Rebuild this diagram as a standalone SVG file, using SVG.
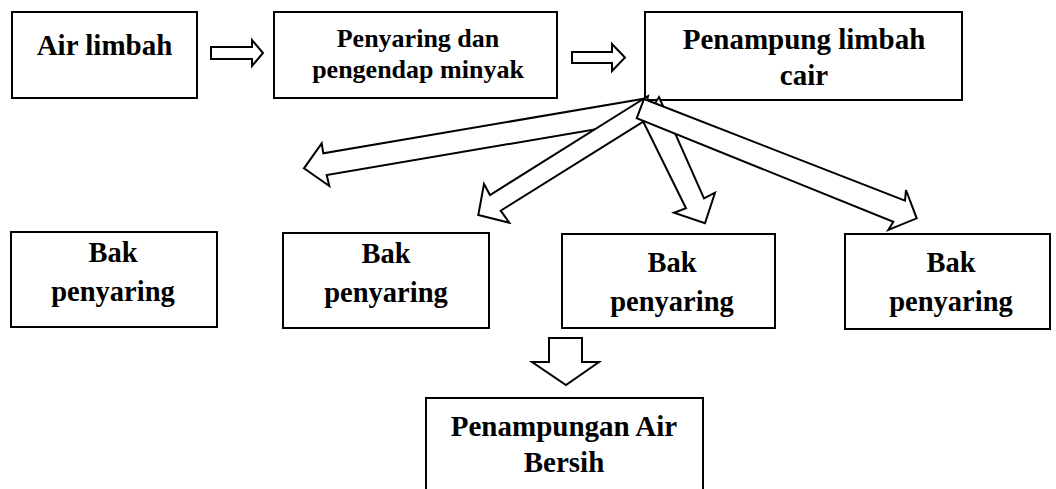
<svg xmlns="http://www.w3.org/2000/svg" width="1056" height="489" viewBox="0 0 1056 489">
<style>
.box{fill:#fff;stroke:#000;stroke-width:2}
.arr{fill:#fff;stroke:#000;stroke-width:2;stroke-linejoin:miter}
.t{font-family:"Liberation Serif","Times New Roman",serif;font-weight:bold;fill:#000;text-anchor:middle}
</style>
<rect width="1056" height="489" fill="#fff"/>
<g id="node-air-limbah">
<rect class="box" x="12" y="12" width="185" height="86"/>
<text class="t" x="104.5" y="55" font-size="29">Air limbah</text>
</g>
<g id="node-penyaring-pengendap">
<rect class="box" x="274" y="12" width="283" height="86"/>
<text class="t" x="418" y="47" font-size="26">Penyaring dan</text>
<text class="t" x="418" y="78" font-size="26">pengendap minyak</text>
</g>
<g id="node-penampung">
<rect class="box" x="645" y="12" width="317" height="88"/>
<text class="t" x="804" y="49" font-size="29">Penampung limbah</text>
<text class="t" x="804" y="85" font-size="29">cair</text>
</g>
<g id="node-bak1">
<rect class="box" x="11" y="232" width="206" height="95"/>
<text class="t" x="113" y="262" font-size="28.5">Bak</text>
<text class="t" x="113" y="301" font-size="28.5">penyaring</text>
</g>
<g id="node-bak2">
<rect class="box" x="283" y="233" width="206" height="95"/>
<text class="t" x="386" y="263" font-size="28.5">Bak</text>
<text class="t" x="386" y="302" font-size="28.5">penyaring</text>
</g>
<g id="node-bak3">
<rect class="box" x="562" y="234" width="213" height="94"/>
<text class="t" x="672" y="272" font-size="28.5">Bak</text>
<text class="t" x="672" y="311" font-size="28.5">penyaring</text>
</g>
<g id="node-bak4">
<rect class="box" x="845" y="234" width="205" height="95"/>
<text class="t" x="951" y="272" font-size="28.5">Bak</text>
<text class="t" x="951" y="311" font-size="28.5">penyaring</text>
</g>
<g id="node-penampungan-air">
<rect class="box" x="426" y="398" width="277" height="120"/>
<text class="t" x="564" y="436" font-size="29">Penampungan Air</text>
<text class="t" x="564" y="472" font-size="29">Bersih</text>
</g>
<g id="connectors">
<polygon class="arr" points="211,47 252,47 252,40 263,53 252,66 252,59 211,59"/>
<polygon class="arr" points="572,52 612,52 612,44 625,57.5 612,71 612,63 572,63"/>
<polygon class="arr" points="646.7,98.3 323.3,153.3 321.7,143.3 304,168.3 329.3,186 326.7,175 650.4,120"/>
<polygon class="arr" points="648,96 490,195 484,184 478.3,215 509.3,222.7 500.7,210.7 643.3,121.7"/>
<polygon class="arr" points="643.3,121.7 686,208.3 674,212.7 705,223.3 715,192.7 704,198.3 659,97"/>
<polygon class="arr" points="644,99 905,200.7 906,190 916.7,218.3 888.3,230 893.3,221.7 636.7,118.3"/>
<polygon class="arr" points="549,338 582,338 582,362 599,362 566,385 532,362 549,362"/>
</g>
</svg>
